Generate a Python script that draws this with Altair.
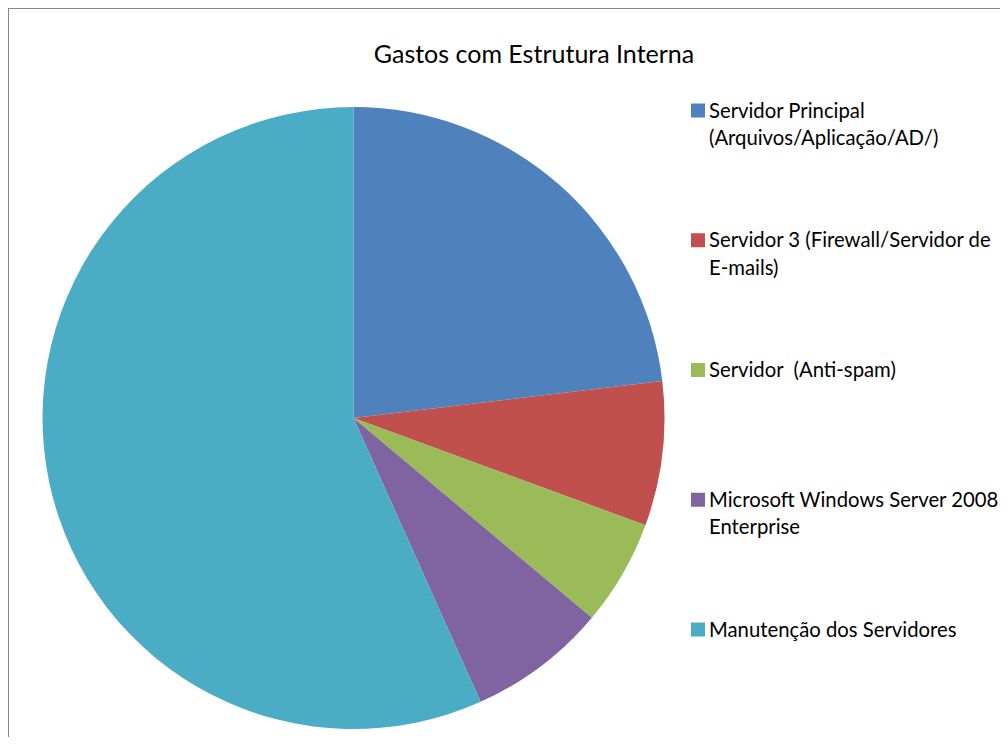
import altair as alt
import pandas as pd

categories = [
    "Servidor Principal (Arquivos/Aplicação/AD/)",
    "Servidor 3 (Firewall/Servidor de E-mails)",
    "Servidor  (Anti-spam)",
    "Microsoft Windows Server 2008 Enterprise",
    "Manutenção dos Servidores",
]
legend_labels = [
    "Servidor Principal\n(Arquivos/Aplicação/AD/)",
    "Servidor 3 (Firewall/Servidor de\nE-mails)",
    "Servidor \u00a0(Anti-spam)",
    "Microsoft Windows Server 2008\nEnterprise",
    "Manutenção dos Servidores",
]
values = [23.1, 7.5, 5.5, 7.2, 56.7]
colors = ["#4F81BD", "#C0504D", "#9BBB59", "#8064A2", "#4BACC6"]
title_text = "Gastos com Estrutura Interna"

df = pd.DataFrame({
    "categoria": categories,
    "rotulo": legend_labels,
    "valor": values,
    "idx": list(range(len(categories))),
})

W, H = 992, 729
FONT = "Lato"

color_scale = alt.Scale(domain=categories, range=colors)

pie = alt.Chart(df).mark_arc(radius=311).encode(
    theta=alt.Theta("valor:Q", stack=True),
    color=alt.Color("categoria:N", scale=color_scale, legend=None),
    order=alt.Order("idx:Q"),
    x=alt.value(345.5),
    y=alt.value(410),
)

yscale = alt.Scale(domain=[0, 4], range=[102.5, 621.5])

squares = alt.Chart(df).mark_square(size=196, opacity=1, filled=True).encode(
    x=alt.value(690),
    y=alt.Y("idx:Q", scale=yscale, axis=None),
    color=alt.Color("categoria:N", scale=color_scale, legend=None),
)

labels = alt.Chart(df).mark_text(
    align="left", baseline="alphabetic", font=FONT, fontSize=20.3,
    lineBreak="\n", lineHeight=27.3, color="#000000", dy=7.0,
).encode(
    x=alt.value(701),
    y=alt.Y("idx:Q", scale=yscale, axis=None),
    text="rotulo:N",
)

title = alt.Chart(pd.DataFrame({"t": [title_text]})).mark_text(
    align="center", baseline="alphabetic", font=FONT, fontSize=25, color="#000000",
).encode(
    x=alt.value(526),
    y=alt.value(55.3),
    text="t:N",
)

border = pd.DataFrame({"a": [0]})
left_rule = alt.Chart(border).mark_rule(color="#868686", strokeWidth=2).encode(
    x=alt.value(0), y=alt.value(0), y2=alt.value(H)
)
top_rule = alt.Chart(border).mark_rule(color="#868686", strokeWidth=2).encode(
    x=alt.value(0), x2=alt.value(W), y=alt.value(0)
)

chart = alt.layer(pie, squares, labels, title, left_rule, top_rule).properties(
    width=W, height=H, padding=0, background="white",
    autosize=alt.AutoSizeParams(type="none"),
).configure_view(stroke=None)

chart.save("out.html", embed_options={"renderer": "svg", "actions": False})
